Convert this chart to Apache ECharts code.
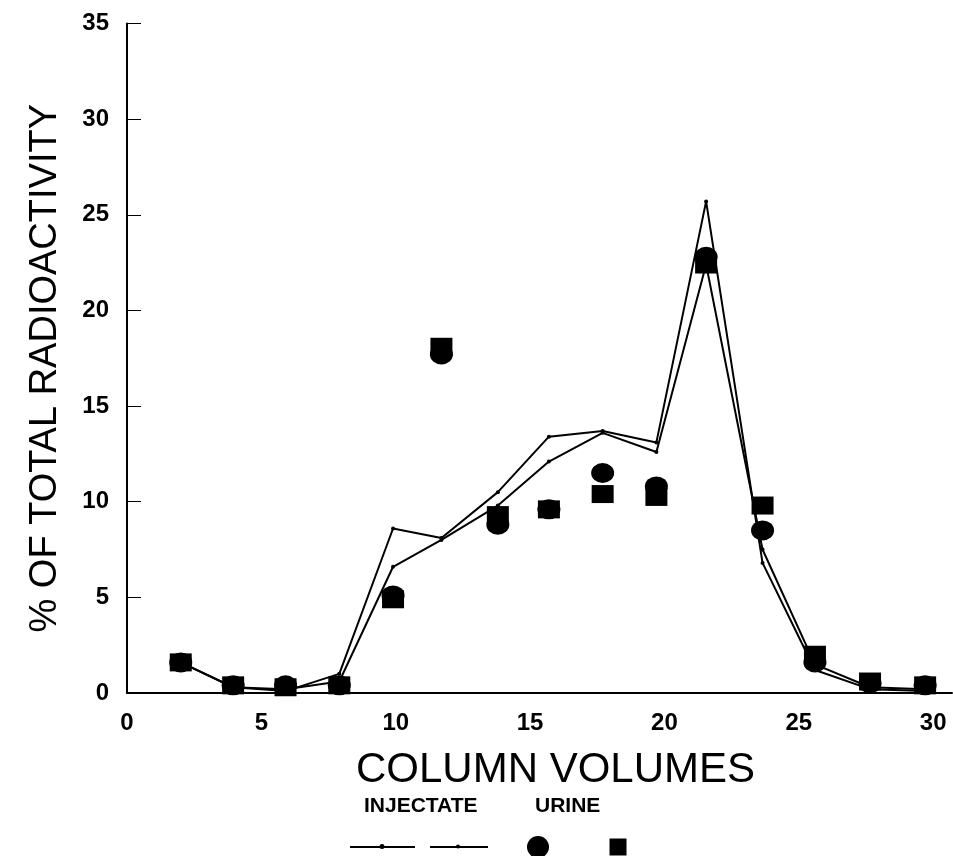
<!DOCTYPE html>
<html>
<head>
<meta charset="utf-8">
<script src="https://cdn.jsdelivr.net/npm/echarts@6/dist/echarts.min.js"></script>
<style>
  html, body { margin: 0; padding: 0; background: #fff; }
  #chart { width: 953px; height: 856px; }
</style>
</head>
<body>
<div id="chart"></div>
<script>
// Column volume at which each fraction was collected
var columnVolumes = [2.0, 3.95, 5.9, 7.9, 9.9, 11.7, 13.8, 15.7, 17.7, 19.7, 21.55, 23.65, 25.6, 27.65, 29.7];

// Injectate runs (% of total radioactivity)
var injectateA = [1.6, 0.3, 0.1, 1.0, 8.6, 8.1, 10.5, 13.4, 13.7, 13.1, 25.7, 6.8, 1.2, 0.2, 0.1];
var injectateB = [1.6, 0.3, 0.2, 0.6, 6.6, 8.0, 9.8, 12.1, 13.6, 12.6, 22.4, 7.5, 1.5, 0.3, 0.2];

// Urine samples (% of total radioactivity)
var urineCircle = [1.6, 0.4, 0.4, 0.4, 5.1, 17.7, 8.8, 9.6, 11.5, 10.8, 22.8, 8.5, 1.6, 0.5, 0.4];
var urineSquare = [1.6, 0.4, 0.3, 0.4, 4.9, 18.1, 9.3, 9.6, 10.4, 10.25, 22.4, 9.8, 2.0, 0.6, 0.4];

// Axis settings
var xMin = 0, xMax = 30.7, xStep = 5;
var yMin = 0, yMax = 35, yStep = 5;

function pairs(xs, ys) {
  return xs.map(function (x, i) { return [x, ys[i]]; });
}

var FONT = '"Liberation Sans", Arial, Helvetica, sans-serif';

var chart = echarts.init(document.getElementById('chart'), null, { renderer: 'canvas' });

var lineStyle = { color: '#000', width: 2 };

chart.setOption({
  backgroundColor: '#fff',
  animation: false,
  grid: { left: 127, right: 1, top: 23.5, bottom: 163, containLabel: false },
  xAxis: {
    type: 'value',
    min: xMin, max: xMax, interval: xStep,
    name: 'COLUMN VOLUMES',
    nameLocation: 'middle',
    nameGap: 56,
    nameTextStyle: { fontFamily: FONT, fontSize: 42, color: '#000', padding: [0, 0, 0, 32] },
    axisLine: { lineStyle: { color: '#000', width: 2 } },
    axisTick: { show: false },
    splitLine: { show: false },
    axisLabel: {
      fontFamily: FONT, fontSize: 24, fontWeight: 'bold', color: '#000',
      margin: 18, showMaxLabel: false
    },
    z: 5
  },
  yAxis: {
    type: 'value',
    min: yMin, max: yMax, interval: yStep,
    name: '% OF TOTAL RADIOACTIVITY',
    nameLocation: 'middle',
    nameRotate: 90,
    nameGap: 62,
    nameTextStyle: { fontFamily: FONT, fontSize: 38, color: '#000', padding: [0, 20, 0, 0] },
    axisLine: { lineStyle: { color: '#000', width: 2 } },
    axisTick: { show: true, inside: true, length: 14, lineStyle: { color: '#000', width: 1 } },
    splitLine: { show: false },
    axisLabel: {
      fontFamily: FONT, fontSize: 24, fontWeight: 'bold', color: '#000', margin: 18
    }
  },
  series: [
    {
      name: 'Injectate A', type: 'line', data: pairs(columnVolumes, injectateA),
      lineStyle: lineStyle, symbol: 'circle', symbolSize: 4,
      itemStyle: { color: '#000' }, z: 3
    },
    {
      name: 'Injectate B', type: 'line', data: pairs(columnVolumes, injectateB),
      lineStyle: lineStyle, symbol: 'circle', symbolSize: 4,
      itemStyle: { color: '#000' }, z: 3
    },
    {
      name: 'Urine (circle)', type: 'scatter', data: pairs(columnVolumes, urineCircle),
      symbol: 'circle', symbolSize: [23, 20],
      itemStyle: { color: '#000', opacity: 1 }, z: 4
    },
    {
      name: 'Urine (square)', type: 'scatter', data: pairs(columnVolumes, urineSquare),
      symbol: 'rect', symbolSize: [22, 18],
      itemStyle: { color: '#000', opacity: 1 }, z: 4
    }
  ],
  graphic: [
    {
      type: 'text', left: 364, top: 796,
      style: { text: 'INJECTATE', fontFamily: FONT, fontSize: 21, fontWeight: 'bold', fill: '#000' }
    },
    {
      type: 'text', left: 535, top: 796,
      style: { text: 'URINE', fontFamily: FONT, fontSize: 21, fontWeight: 'bold', fill: '#000' }
    },
    { type: 'line', shape: { x1: 350, y1: 847, x2: 415, y2: 847 }, style: { stroke: '#000', lineWidth: 2 } },
    { type: 'circle', shape: { cx: 382, cy: 846.5, r: 2.5 }, style: { fill: '#000' } },
    { type: 'line', shape: { x1: 430, y1: 847, x2: 488, y2: 847 }, style: { stroke: '#000', lineWidth: 2 } },
    { type: 'circle', shape: { cx: 458, cy: 846.5, r: 2 }, style: { fill: '#000' } },
    { type: 'circle', shape: { cx: 538, cy: 847, r: 11 }, style: { fill: '#000' } },
    { type: 'rect', shape: { x: 609.5, y: 838.5, width: 17, height: 17 }, style: { fill: '#000' } }
  ]
});
</script>
</body>
</html>
